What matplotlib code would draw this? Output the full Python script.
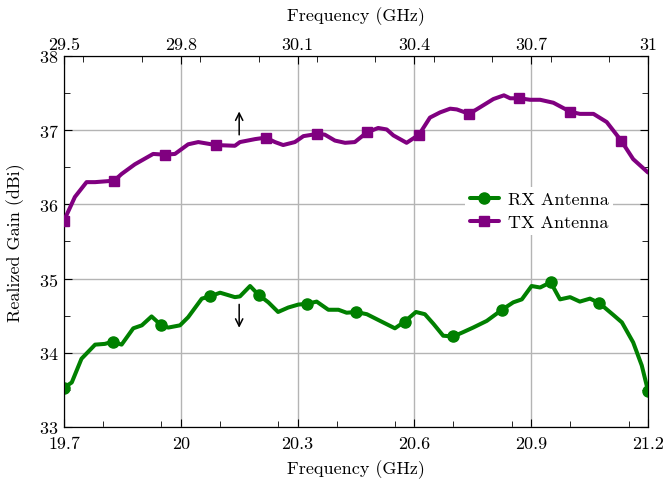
import numpy as np
import matplotlib
matplotlib.use("Agg")
import matplotlib.pyplot as plt
from matplotlib.ticker import MultipleLocator

plt.rcParams['font.family'] = ['cmr10', 'DejaVu Serif']
plt.rcParams['mathtext.fontset'] = 'cm'
plt.rcParams['axes.formatter.use_mathtext'] = True
plt.rcParams['font.size'] = 13

# RX antenna, bottom axis (GHz)
rx_freq = [19.700, 19.720, 19.745, 19.780, 19.805, 19.825, 19.848, 19.878, 19.900, 19.925,
           19.950, 19.968, 19.998, 20.019, 20.054, 20.075, 20.101, 20.139, 20.152, 20.178,
           20.200, 20.225, 20.250, 20.276, 20.302, 20.325, 20.349, 20.379, 20.405, 20.426,
           20.450, 20.478, 20.512, 20.550, 20.575, 20.604, 20.627, 20.649, 20.674, 20.700,
           20.726, 20.751, 20.786, 20.825, 20.854, 20.876, 20.901, 20.923, 20.950, 20.974,
           21.000, 21.025, 21.051, 21.075, 21.111, 21.133, 21.162, 21.184, 21.200]
rx_gain = [33.53, 33.60, 33.92, 34.11, 34.12, 34.15, 34.11, 34.33, 34.37, 34.49,
           34.37, 34.34, 34.37, 34.48, 34.73, 34.76, 34.81, 34.75, 34.76, 34.90,
           34.78, 34.68, 34.55, 34.61, 34.65, 34.66, 34.69, 34.58, 34.58, 34.54,
           34.55, 34.52, 34.43, 34.33, 34.42, 34.55, 34.52, 34.39, 34.23, 34.22,
           34.28, 34.34, 34.43, 34.58, 34.68, 34.72, 34.90, 34.88, 34.95, 34.72,
           34.75, 34.69, 34.73, 34.67, 34.51, 34.41, 34.14, 33.83, 33.49]
rx_marks = [19.700, 19.825, 19.950, 20.075, 20.200, 20.325, 20.450, 20.575, 20.700,
            20.825, 20.950, 21.075, 21.200]

# TX antenna, top axis (GHz)
tx_freq = [29.500, 29.528, 29.558, 29.580, 29.629, 29.648, 29.682, 29.729, 29.759, 29.785,
           29.819, 29.845, 29.890, 29.939, 29.952, 29.991, 30.018, 30.042, 30.063, 30.093,
           30.115, 30.151, 30.170, 30.196, 30.222, 30.247, 30.278, 30.307, 30.329, 30.346,
           30.380, 30.412, 30.440, 30.466, 30.492, 30.509, 30.541, 30.569, 30.603, 30.630,
           30.646, 30.670, 30.697, 30.723, 30.757, 30.800, 30.825, 30.860, 30.894, 30.931,
           30.962, 31.000]
tx_gain = [35.78, 36.10, 36.30, 36.30, 36.32, 36.41, 36.54, 36.68, 36.67, 36.68,
           36.81, 36.84, 36.80, 36.79, 36.84, 36.88, 36.90, 36.84, 36.80, 36.84,
           36.92, 36.95, 36.94, 36.86, 36.83, 36.84, 36.97, 37.03, 37.01, 36.93,
           36.83, 36.94, 37.17, 37.24, 37.29, 37.28, 37.22, 37.31, 37.42, 37.47,
           37.43, 37.43, 37.41, 37.41, 37.37, 37.25, 37.22, 37.22, 37.11, 36.86,
           36.61, 36.43]
tx_marks = [29.500, 29.629, 29.759, 29.890, 30.018, 30.151, 30.278, 30.412, 30.541,
            30.670, 30.800, 30.931]

bottom_ticks = [19.7, 20.0, 20.3, 20.6, 20.9, 21.2]
bottom_labels = ["19.7", "20", "20.3", "20.6", "20.9", "21.2"]
top_ticks = [29.5, 29.8, 30.1, 30.4, 30.7, 31.0]
top_labels = ["29.5", "29.8", "30.1", "30.4", "30.7", "31"]


def mark_idx(freq, marks):
    f = np.array(freq)
    return [int(np.argmin(np.abs(f - m))) for m in marks]


fig = plt.figure(figsize=(6.65, 4.81), dpi=100)
ax = fig.add_axes([0.0962, 0.1102, 0.8782, 0.7713])
ax2 = ax.twiny()

l1, = ax.plot(rx_freq, rx_gain, color='green', lw=2.9, marker='o', ms=8,
              markevery=mark_idx(rx_freq, rx_marks), label='RX Antenna', zorder=3,
              solid_joinstyle='round', solid_capstyle='round')
l2, = ax2.plot(tx_freq, tx_gain, color='purple', lw=2.9, marker='s', ms=7,
               markevery=mark_idx(tx_freq, tx_marks), label='TX Antenna', zorder=3,
               solid_joinstyle='round', solid_capstyle='round')

ax.set_xlim(19.7, 21.2)
ax.set_ylim(33, 38)
ax2.set_xlim(29.5, 31.0)

ax.set_xticks(bottom_ticks, bottom_labels)
ax.xaxis.set_minor_locator(MultipleLocator(0.15))
ax.yaxis.set_major_locator(MultipleLocator(1))
ax.yaxis.set_minor_locator(MultipleLocator(0.5))
ax2.set_xticks(top_ticks, top_labels)
ax2.xaxis.set_minor_locator(MultipleLocator(0.15))

ax.tick_params(which='both', direction='in', right=True, top=False, labelsize=13)
ax.tick_params(axis='x', pad=6)
ax.tick_params(axis='y', pad=4)
ax.tick_params(which='major', length=6)
ax.tick_params(which='minor', length=4)
ax2.tick_params(which='both', direction='in', labelsize=13, pad=3)
ax2.tick_params(which='major', length=6)
ax2.tick_params(which='minor', length=4)

ax.grid(True, which='major', color='#b4b4b4', lw=1)
ax.set_axisbelow(True)

ax.set_xlabel("Frequency (GHz)", fontsize=13, labelpad=6)
ax2.set_xlabel("Frequency (GHz)", fontsize=13, labelpad=12)
ax.set_ylabel("Realized Gain (dBi)", fontsize=13, labelpad=10)

ax.annotate("", xy=(20.15, 37.29), xytext=(20.15, 36.90),
            arrowprops=dict(arrowstyle='->', color='black', lw=1.1))
ax.annotate("", xy=(20.15, 34.30), xytext=(20.15, 34.69),
            arrowprops=dict(arrowstyle='->', color='black', lw=1.1))

leg = ax2.legend([l1, l2], ['RX Antenna', 'TX Antenna'], loc='center left',
                 bbox_to_anchor=(0.672, 0.582), frameon=True, fancybox=False,
                 edgecolor='none', framealpha=1, fontsize=13, handlelength=1.6,
                 handletextpad=0.5, borderpad=0.25, labelspacing=0.4)

fig.savefig("out.png", dpi=100)
